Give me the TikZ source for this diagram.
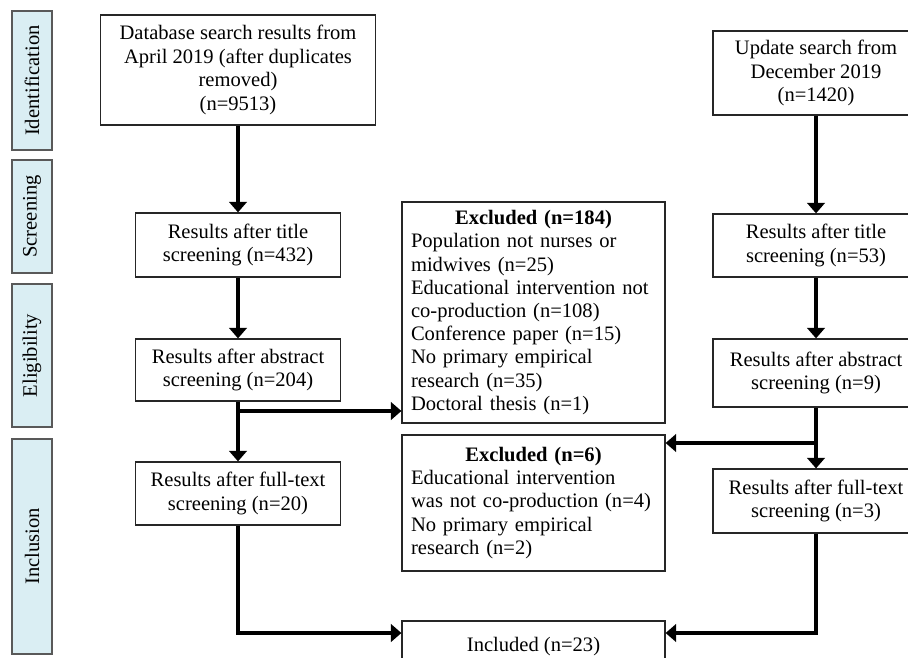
\documentclass[tikz,border=0pt]{standalone}
\usepackage{fontspec}
\setmainfont{Liberation Serif}
\usetikzlibrary{arrows.meta}
\definecolor{phaseblue}{HTML}{DAEEF3}
\definecolor{phaseline}{HTML}{595959}
\tikzset{
    flowbox/.style={draw=black!85,line width=0.7pt,align=center,inner sep=0pt,font=\fontsize{11.7}{13.6}\selectfont},
    exclbox/.style={flowbox,align=left,text width=4.9cm,minimum width=5.26cm,font=\fontsize{11.7}{13.2}\selectfont},
    phasebox/.style={draw=phaseline,fill=phaseblue,line width=0.6pt,rotate=90,minimum height=0.8cm,inner sep=0pt,font=\fontsize{11.7}{13.6}\selectfont},
    flowarrow/.style={line width=2.2pt,-{Triangle[length=6pt,width=10pt]}},
}

\begin{document}
\begin{tikzpicture}[x=0.02cm,y=-0.02cm]
            \useasboundingbox (0,0) rectangle (908,658);
            \node[phasebox,minimum width=2.78cm] (lblid) at (32,80.5) {Identification};
            \node[phasebox,minimum width=2.26cm] (lblscr) at (32,216.5) {Screening};
            \node[phasebox,minimum width=2.86cm] (lblelig) at (32,355.5) {Eligibility};
            \node[phasebox,minimum width=4.3cm] (lblinc) at (32,546.5) {Inclusion};
            \node[flowbox,minimum width=5.5cm,minimum height=2.2cm] (dbsearch) at (238,70) {Database search results from\\April 2019 (after duplicates\\removed)\\(n=9513)};
            \node[flowbox,minimum width=4.1cm,minimum height=1.28cm] (title) at (238,245) {Results after title\\screening (n=432)};
            \node[flowbox,minimum width=4.1cm,minimum height=1.24cm] (abstract) at (238,370) {Results after abstract\\screening (n=204)};
            \node[flowbox,minimum width=4.1cm,minimum height=1.26cm] (fulltext) at (238,493.5) {Results after full-text\\screening (n=20)};
            \node[exclbox,minimum height=4.42cm] (excla) at (533.5,312.5) {\makebox[4.9cm]{\textbf{Excluded (n=184)}}\\Population not nurses or\\midwives (n=25)\\Educational intervention not\\co-production (n=108)\\Conference paper (n=15)\\No primary empirical\\research (n=35)\\Doctoral thesis (n=1)};
            \node[exclbox,minimum height=2.72cm] (exclb) at (533.5,503) {\makebox[4.9cm]{\textbf{Excluded (n=6)}}\\Educational intervention\\was not co-production (n=4)\\No primary empirical\\research (n=2)};
            \node[flowbox,minimum width=5.26cm,minimum height=1.04cm] (included) at (533.5,647) {Included (n=23)};
            \node[flowbox,minimum width=4.12cm,minimum height=1.68cm] (upsearch) at (816,73) {Update search from\\December 2019\\(n=1420)};
            \node[flowbox,minimum width=4.12cm,minimum height=1.26cm] (uptitle) at (816,245.5) {Results after title\\screening (n=53)};
            \node[flowbox,minimum width=4.12cm,minimum height=1.36cm] (upabstract) at (816,373) {Results after abstract\\screening (n=9)};
            \node[flowbox,minimum width=4.12cm,minimum height=1.28cm] (upfulltext) at (816,501) {Results after full-text\\screening (n=3)};
            \coordinate (absbranch) at (238,411);
            \coordinate (upbranch) at (816,443);
            \coordinate (joinrow) at (0,633);
            \draw[flowarrow] (dbsearch.south) -- (title.north);
            \draw[flowarrow] (title.south) -- (abstract.north);
            \draw[flowarrow] (abstract.south) -- (fulltext.north);
            \draw[flowarrow] (absbranch) -- (absbranch -| excla.west);
            \draw[flowarrow] (upsearch.south) -- (uptitle.north);
            \draw[flowarrow] (uptitle.south) -- (upabstract.north);
            \draw[flowarrow] (upabstract.south) -- (upfulltext.north);
            \draw[flowarrow] (upbranch) -- (upbranch -| exclb.east);
            \draw[flowarrow] (fulltext.south) |- (included.west |- joinrow);
            \draw[flowarrow] (upfulltext.south) |- (included.east |- joinrow);
        \end{tikzpicture}
\end{document}
